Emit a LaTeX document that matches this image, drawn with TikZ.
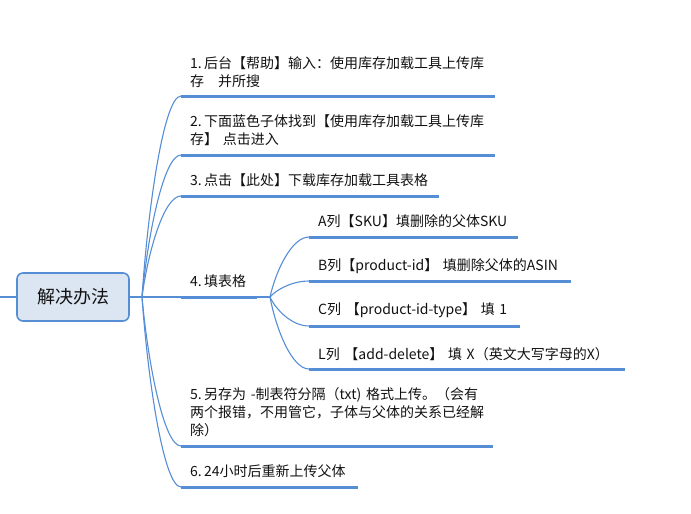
\documentclass[tikz,border=0pt]{standalone}
\usepackage{fontspec}
\setmainfont{Noto Sans CJK SC}
\usetikzlibrary{calc}
\definecolor{lineblue}{HTML}{558ED5}
\definecolor{boxfill}{HTML}{DCE6F2}
\definecolor{txt}{HTML}{111111}
\tikzset{
  conn/.style={draw=lineblue, line width=1.1pt},
  uline/.style={draw=lineblue, line width=3pt},
  branch/.style={to path={.. controls ($(\tikztostart)!0.45!(\tikztotarget)+(-11.5,0)$) and ($(\tikztotarget)+(-17,0)$) .. (\tikztotarget)}},
  label/.style={anchor=base west, inner sep=0pt, text width=420pt, align=left, text=txt,
    font=\fontsize{14}{18}\selectfont},
  rootbox/.style={draw=lineblue, line width=1.6pt, fill=boxfill, rounded corners=6pt,
    minimum width=112pt, minimum height=48pt, text=txt, font=\fontsize{18}{22}\selectfont}
}
\begin{document}
\begin{tikzpicture}[x=1pt,y=-1pt]
\useasboundingbox (0,0) rectangle (691,514);
% root
\node[rootbox] (root) at (73,297) {解决办法};
\coordinate (lft) at (0,297);
\coordinate (hub) at (142,297);
\draw[conn] (lft) -- (root.west);
\draw[conn] (root.east) -- (hub);
% branch coordinates
\coordinate (u1s) at (181,96);  \coordinate (u1e) at (495,96);
\coordinate (u2s) at (181,155); \coordinate (u2e) at (495,155);
\coordinate (u3s) at (181,196); \coordinate (u3e) at (439,196);
\coordinate (u4s) at (181,297); \coordinate (u4e) at (257,297);
\coordinate (u5s) at (181,446); \coordinate (u5e) at (493,446);
\coordinate (u6s) at (181,487); \coordinate (u6e) at (358,487);
\foreach \i in {1,2,3,4,5,6}{
  \draw[conn] (hub) to[branch] (u\i s);
  \draw[uline] (u\i s) -- (u\i e);
}
% sub branches
\coordinate (sub) at (270,297);
\draw[conn] (u4e) -- (sub);
\coordinate (vAs) at (309,237); \coordinate (vAe) at (518,237);
\coordinate (vBs) at (309,281); \coordinate (vBe) at (571,281);
\coordinate (vCs) at (309,326); \coordinate (vCe) at (520,326);
\coordinate (vLs) at (309,369); \coordinate (vLe) at (625,369);
\foreach \i in {A,B,C,L}{
  \draw[conn] (sub) to[branch] (v\i s);
  \draw[uline] (v\i s) -- (v\i e);
}
% texts
\node[label] (t1) at (190,68) {1.\,后台【帮助】输入：使用库存加载工具上传库\\存\hspace{1em}并所搜};
\node[label] (t2) at (190,126) {2.\,下面蓝色子体找到【使用库存加载工具上传库\\存】 点击进入};
\node[label] (t3) at (190,185) {3.\,点击【此处】下载库存加载工具表格};
\node[label] (t4) at (190,286) {4.\,填表格};
\node[label] (tA) at (318,226) {A列【SKU】填删除的父体SKU};
\node[label] (tB) at (318,270) {B列【product-id】 填删除父体的ASIN};
\node[label] (tC) at (318,314) {C列 【product-id-type】 填 1};
\node[label] (tL) at (318,359) {L列 【add-delete】 填 X（英文大写字母的X）};
\node[label] (t5) at (190,399) {5.\,另存为 -制表符分隔（txt) 格式上传。（会有\\两个报错，不用管它，子体与父体的关系已经解\\除）};
\node[label] (t6) at (190,476) {6.\,24小时后重新上传父体};
\end{tikzpicture}
\end{document}
